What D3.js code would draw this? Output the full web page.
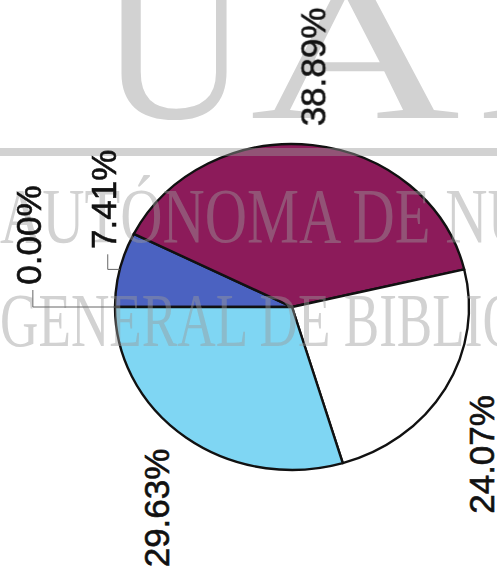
<!DOCTYPE html>
<html>
<head>
<meta charset="utf-8">
<script src="https://cdn.jsdelivr.net/npm/d3@7"></script>
<style>
  html, body { margin: 0; padding: 0; background: #fff; }
  svg { display: block; }
</style>
</head>
<body>
<svg id="chart" width="497" height="580"></svg>
<script>
// 資料
const categories = ["A", "B", "C", "D", "E"];
const values = [0.0, 7.41, 38.89, 24.07, 29.63];
const labels = ["0.00%", "7.41%", "38.89%", "24.07%", "29.63%"];
const colors = ["#ffffff", "#4b62c1", "#8c1b5a", "#ffffff", "#7fd6f3"];

// 版面
const width = 497;
const height = 580;
const cx = 292;
const cy = 307;
const r = 163;
const sx = 177 / 163; // 掃描圖橫向被拉長
const labelR = 188;
// 標籤微調 (圖上有避開重疊)
const labelNudge = [[-45, -72], [24, -53], [-5, 5], [0, 24], [-5, 3]];
const fontSize = 35;

const svg = d3.select("#chart");

// 圓餅
const pie = d3.pie().sort(null).value((d) => d)
  .startAngle(-Math.PI / 2).endAngle(Math.PI * 1.5);
const arcs = pie(values);
const arc = d3.arc().innerRadius(0).outerRadius(r);

const g = svg.append("g")
  .attr("transform", `translate(${cx},${cy}) scale(${sx},1)`);

g.selectAll("path")
  .data(arcs)
  .enter()
  .append("path")
  .attr("d", arc)
  .attr("fill", (d, i) => colors[i])
  .attr("stroke", "#111")
  .attr("stroke-width", 2.4)
  .attr("stroke-linejoin", "round")
  .attr("vector-effect", "non-scaling-stroke");

// 角度 -> 畫面座標
function polar(a, rr) {
  return [cx + Math.sin(a) * rr * sx, cy - Math.cos(a) * rr];
}

// 浮水印 (蓋在圓餅上，半透明)
const wm = svg.append("g")
  .attr("fill", "#9a9a9a")
  .attr("opacity", 0.45)
  .attr("font-family", "'Liberation Serif', 'DejaVu Serif', serif");

wm.append("text")
  .attr("transform", "translate(100,118)")
  .attr("font-size", 205)
  .text("U");
wm.append("text")
  .attr("transform", "translate(250,118) scale(1.42,1)")
  .attr("font-size", 205)
  .text("A");
wm.append("text")
  .attr("transform", "translate(478,118)")
  .attr("font-size", 205)
  .text("N");

wm.append("rect")
  .attr("x", 0)
  .attr("y", 148)
  .attr("width", width)
  .attr("height", 8);

wm.append("text")
  .attr("transform", "translate(0,242) scale(0.75,1)")
  .attr("font-size", 78)
  .text("AUTÓNOMA DE NU");

wm.append("text")
  .attr("transform", "translate(0,346) scale(0.7,1)")
  .attr("font-size", 76)
  .text("GENERAL DE BIBLIO");

// 標籤
const labelPos = arcs.map((d, i) => {
  const a = (d.startAngle + d.endAngle) / 2;
  const w = fontSize * 0.4;
  const h = labels[i].length * fontSize * 0.28;
  const x = cx + Math.sin(a) * (labelR * sx + w) + labelNudge[i][0];
  const y = cy - Math.cos(a) * (labelR + h) + labelNudge[i][1];
  return { a, x, y, h };
});

svg.append("g")
  .selectAll("text")
  .data(labelPos)
  .enter()
  .append("text")
  .attr("transform", (d) => `translate(${d.x},${d.y}) rotate(-90)`)
  .attr("text-anchor", "middle")
  .attr("dy", "0.36em")
  .attr("font-family", "'Liberation Sans', Arial, sans-serif")
  .attr("font-size", fontSize)
  .attr("fill", "#111")
  .attr("stroke", "#111")
  .attr("stroke-width", 0.6)
  .text((d, i) => labels[i]);

// 引導線 (小扇形)
const leaders = [0, 1].map((i) => {
  const p = labelPos[i];
  const edge = polar(p.a, r);
  const lx = p.x + 4;
  const bottom = p.y + p.h + 6;
  return [edge, [lx, edge[1]], [lx, bottom]];
});

svg.append("g")
  .selectAll("path")
  .data(leaders)
  .enter()
  .append("path")
  .attr("d", d3.line())
  .attr("fill", "none")
  .attr("stroke", "#666")
  .attr("stroke-width", 1);
</script>
</body>
</html>
